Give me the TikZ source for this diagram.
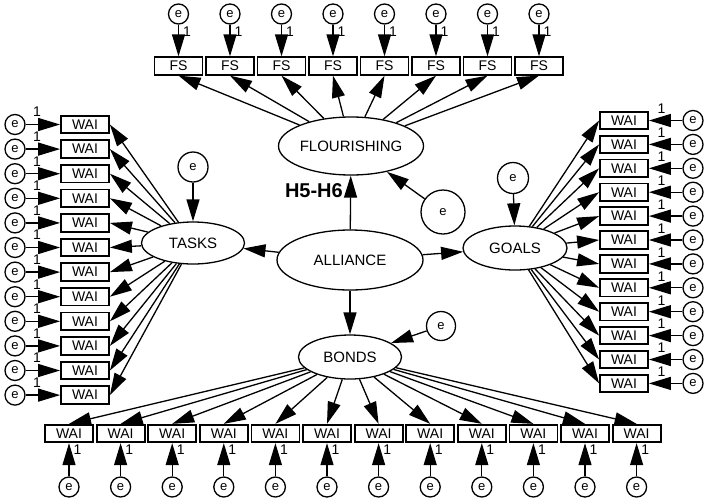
\documentclass[tikz,border=0pt]{standalone}
\usepackage{fontspec}
\setmainfont{Liberation Sans}
\usetikzlibrary{arrows.meta, positioning, shapes.geometric}

\begin{document}
\begin{tikzpicture}[x=1pt, y=-1pt,
  every node/.style={font=\fontsize{14}{16}\selectfont},
  latent/.style={ellipse, draw, line width=1.3pt, inner sep=0pt, font=\fontsize{15}{17}\selectfont},
  item/.style={rectangle, draw, line width=1.8pt, minimum width=48pt, minimum height=17.5pt, inner sep=0pt},
  err/.style={circle, draw, line width=1.3pt, minimum size=20pt, inner sep=0pt, font=\fontsize{13}{15}\selectfont},
  load/.style={-{Triangle[length=22pt, width=13pt]}, line width=1.3pt},
  one/.style={inner sep=0pt, font=\fontsize{14}{16}\selectfont}]
  \useasboundingbox (0,0) rectangle (708,501);
  % latent factors
  \node[latent, minimum width=146pt, minimum height=60pt] (alliance) at (350,260) {ALLIANCE};
  \node[latent, minimum width=145pt, minimum height=58pt] (flour) at (351,146) {FLOURISHING};
  \node[latent, minimum width=103pt, minimum height=42pt] (tasks) at (193,243) {TASKS};
  \node[latent, minimum width=104pt, minimum height=44pt] (goals) at (515,248) {GOALS};
  \node[latent, minimum width=103pt, minimum height=44pt] (bonds) at (350,357) {BONDS};
  % residuals
  \node[err, minimum size=30pt] (etasks) at (193,167) {e};
  \node[err, minimum size=44pt] (eflour) at (443,212) {e};
  \node[err, minimum size=31pt] (egoals) at (513,178) {e};
  \node[err, minimum size=29pt] (ebonds) at (441,326) {e};
  \draw[load] (etasks) -- (tasks);
  \draw[load] (eflour) -- (flour);
  \draw[load] (egoals) -- (goals);
  \draw[load] (ebonds) -- (bonds);
  % structural paths
  \draw[load] (alliance) -- (flour);
  \draw[load] (alliance) -- (tasks);
  \draw[load] (alliance) -- (goals);
  \draw[load] (alliance) -- (bonds);
  \node[font=\bfseries\fontsize{20}{22}\selectfont, anchor=east, inner sep=0pt] (hyp) at (343,191) {H5-H6};
  % flourishing items
  \foreach \i in {1,...,8} {
    \node[item] (fs\i) at ({178.5+51.5*(\i-1)},66) {FS};
    \node[err] (efs\i) at ({178.5+51.5*(\i-1)},14) {e};
    \draw[load] (efs\i) -- node[one, pos=0.22, anchor=west, xshift=4pt] {1} (fs\i);
    \draw[load] (flour) -- (fs\i.south);
  }
  % tasks items
  \foreach \i in {1,...,12} {
    \node[item] (wt\i) at (85,{124.5+24.6*(\i-1)}) {WAI};
    \node[err] (ewt\i) at (15,{124.5+24.6*(\i-1)}) {e};
    \draw[load] (ewt\i) -- node[one, pos=0.33, anchor=south, yshift=7pt] {1} (wt\i);
    \draw[load] (tasks) -- (wt\i.east);
  }
  % goals items
  \foreach \i in {1,...,12} {
    \node[item] (wg\i) at (624,{120.5+23.9*(\i-1)}) {WAI};
    \node[err] (ewg\i) at (693,{120.5+23.9*(\i-1)}) {e};
    \draw[load] (ewg\i) -- node[one, pos=0.62, anchor=south, yshift=6pt] {1} (wg\i);
    \draw[load] (goals) -- (wg\i.west);
  }
  % bonds items
  \foreach \i in {1,...,12} {
    \node[item] (wb\i) at ({69+51.6*(\i-1)},433.5) {WAI};
    \node[err] (ewb\i) at ({69+51.6*(\i-1)},487) {e};
    \draw[load] (ewb\i) -- node[one, pos=0.8, anchor=west, xshift=4pt] {1} (wb\i);
    \draw[load] (bonds) -- (wb\i.north);
  }
\end{tikzpicture}
\end{document}
